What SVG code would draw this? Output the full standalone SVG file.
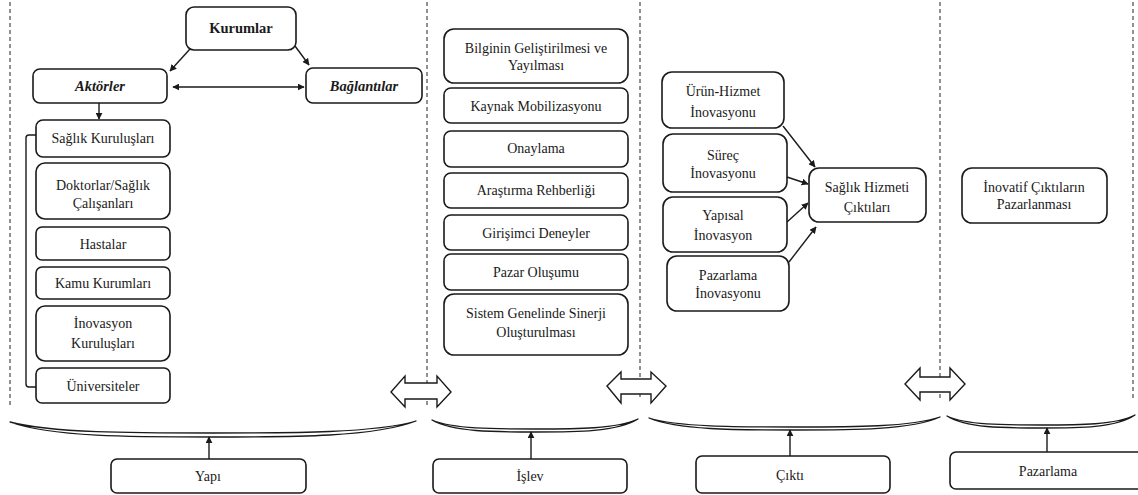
<svg xmlns="http://www.w3.org/2000/svg" width="1138" height="495" viewBox="0 0 1138 495">
  <style>
    .box { fill: #ffffff; stroke: #1a1a1a; stroke-width: 1.6; }
    .t { font-family: 'Liberation Serif', 'Times New Roman', serif; font-size: 14px; fill: #1a1a1a; text-anchor: middle; }
    .bi { font-weight: bold; font-style: italic; font-size: 14.5px; }
    .b { font-weight: bold; font-size: 14.5px; }
    .dash { stroke: #222; stroke-width: 1; stroke-dasharray: 4 3; fill: none; }
    .line { stroke: #1a1a1a; stroke-width: 1.4; fill: none; }
    .brace { fill: #ffffff; stroke: #1a1a1a; stroke-width: 1.3; stroke-linejoin: round; }
    .hollow { fill: #ffffff; stroke: #1a1a1a; stroke-width: 1.4; stroke-linejoin: miter; }
  </style>
  <defs>
    <marker id="ah" viewBox="0 0 10 10" refX="9" refY="5" markerWidth="7" markerHeight="7" markerUnits="userSpaceOnUse" orient="auto-start-reverse">
      <path d="M0,0 L10,5 L0,10 Z" fill="#1a1a1a"/>
    </marker>
  </defs>

  <!-- section separators -->
  <g id="separators">
    <line class="dash" x1="10" y1="2" x2="10" y2="405"/>
    <line class="dash" x1="427" y1="2" x2="427" y2="405"/>
    <line class="dash" x1="640" y1="2" x2="640" y2="397"/>
    <line class="dash" x1="940" y1="2" x2="940" y2="400"/>
    <line class="dash" x1="1133" y1="2" x2="1133" y2="398"/>
  </g>

  <!-- Yapı: institutions, actors, links -->
  <g id="kurumlar">
    <rect class="box" x="186" y="7" width="110" height="43" rx="8"/>
    <text class="t b" x="241" y="33">Kurumlar</text>
  </g>
  <g id="aktorler">
    <rect class="box" x="33" y="69" width="134" height="34" rx="7"/>
    <text class="t bi" x="100" y="91">Aktörler</text>
  </g>
  <g id="baglantilar">
    <rect class="box" x="306" y="68" width="116" height="35" rx="7"/>
    <text class="t bi" x="364" y="91">Bağlantılar</text>
  </g>

  <g id="aktor-list">
    <g id="saglik-kuruluslari">
      <rect class="box" x="36" y="120" width="134" height="37" rx="7"/>
      <text class="t" x="103" y="143">Sağlık Kuruluşları</text>
    </g>
    <g id="doktorlar">
      <rect class="box" x="36" y="163" width="134" height="56" rx="9"/>
      <text class="t" x="103" y="190">Doktorlar/Sağlık</text>
      <text class="t" x="103" y="208">Çalışanları</text>
    </g>
    <g id="hastalar">
      <rect class="box" x="36" y="227" width="134" height="33" rx="6"/>
      <text class="t" x="103" y="249">Hastalar</text>
    </g>
    <g id="kamu">
      <rect class="box" x="36" y="267" width="134" height="32" rx="6"/>
      <text class="t" x="103" y="288">Kamu Kurumları</text>
    </g>
    <g id="inovasyon-kuruluslari">
      <rect class="box" x="36" y="306" width="134" height="55" rx="9"/>
      <text class="t" x="103" y="328">İnovasyon</text>
      <text class="t" x="103" y="348">Kuruluşları</text>
    </g>
    <g id="universiteler">
      <rect class="box" x="36" y="368" width="134" height="35" rx="6"/>
      <text class="t" x="103" y="391">Üniversiteler</text>
    </g>
  </g>

  <!-- İşlev -->
  <g id="islev-list">
    <g id="bilgi">
      <rect class="box" x="444" y="29" width="184" height="54" rx="10"/>
      <text class="t" x="536" y="53">Bilginin Geliştirilmesi ve</text>
      <text class="t" x="536" y="70">Yayılması</text>
    </g>
    <g id="kaynak">
      <rect class="box" x="444" y="88" width="184" height="35" rx="7"/>
      <text class="t" x="536" y="111">Kaynak Mobilizasyonu</text>
    </g>
    <g id="onaylama">
      <rect class="box" x="444" y="131" width="184" height="36" rx="7"/>
      <text class="t" x="536" y="153">Onaylama</text>
    </g>
    <g id="arastirma">
      <rect class="box" x="444" y="173" width="184" height="35" rx="7"/>
      <text class="t" x="536" y="195">Araştırma Rehberliği</text>
    </g>
    <g id="girisimci">
      <rect class="box" x="444" y="215" width="184" height="35" rx="7"/>
      <text class="t" x="536" y="238">Girişimci Deneyler</text>
    </g>
    <g id="pazar-olusumu">
      <rect class="box" x="444" y="254" width="184" height="36" rx="7"/>
      <text class="t" x="536" y="277">Pazar Oluşumu</text>
    </g>
    <g id="sinerji">
      <rect class="box" x="444" y="294" width="184" height="61" rx="10"/>
      <text class="t" x="536" y="318">Sistem Genelinde Sinerji</text>
      <text class="t" x="536" y="337">Oluşturulması</text>
    </g>
  </g>

  <!-- Çıktı -->
  <g id="cikti-list">
    <g id="urun-hizmet">
      <rect class="box" x="662" y="72" width="122" height="56" rx="10"/>
      <text class="t" x="723" y="96">Ürün-Hizmet</text>
      <text class="t" x="723" y="117">İnovasyonu</text>
    </g>
    <g id="surec">
      <rect class="box" x="663" y="134" width="124" height="58" rx="10"/>
      <text class="t" x="723" y="160">Süreç</text>
      <text class="t" x="723" y="178">İnovasyonu</text>
    </g>
    <g id="yapisal">
      <rect class="box" x="663" y="197" width="124" height="55" rx="10"/>
      <text class="t" x="723" y="220">Yapısal</text>
      <text class="t" x="723" y="240">İnovasyon</text>
    </g>
    <g id="pazarlama-inovasyonu">
      <rect class="box" x="667" y="256" width="122" height="55" rx="10"/>
      <text class="t" x="728" y="280">Pazarlama</text>
      <text class="t" x="728" y="298">İnovasyonu</text>
    </g>
    <g id="saglik-hizmeti">
      <rect class="box" x="809" y="168" width="117" height="54" rx="10"/>
      <text class="t" x="867" y="192">Sağlık Hizmeti</text>
      <text class="t" x="867" y="212">Çıktıları</text>
    </g>
  </g>

  <!-- Pazarlama -->
  <g id="inovatif">
    <rect class="box" x="962" y="168" width="145" height="55" rx="10"/>
    <text class="t" x="1034" y="192">İnovatif Çıktıların</text>
    <text class="t" x="1034" y="209">Pazarlanması</text>
  </g>

  <!-- bottom dimension labels -->
  <g id="yapi">
    <rect class="box" x="111" y="459" width="195" height="34" rx="6"/>
    <text class="t" x="208" y="481">Yapı</text>
  </g>
  <g id="islev">
    <rect class="box" x="433" y="459" width="194" height="34" rx="6"/>
    <text class="t" x="530" y="481">İşlev</text>
  </g>
  <g id="cikti">
    <rect class="box" x="696" y="456" width="194" height="37" rx="6"/>
    <text class="t" x="790" y="480">Çıktı</text>
  </g>
  <g id="pazarlama">
    <rect class="box" x="950" y="452" width="200" height="37" rx="6"/>
    <text class="t" x="1048" y="476">Pazarlama</text>
  </g>

  <!-- grouping brackets under each section -->
  <g id="braces">
    <path class="brace" d="M10,422 C51,433 132,433 213,433 S375,433 416,421 C375,437 294,437 213,437 S51,437 10,422 Z"/>
    <path class="brace" d="M432,420 C453,429 494,429 535,429 S617,429 638,419 C617,432 576,432 535,432 S453,432 432,420 Z"/>
    <path class="brace" d="M649,418 C678,427 736,427 794,427 S911,427 940,417 C911,430 853,430 794,430 S678,430 649,418 Z"/>
    <path class="brace" d="M947,416 C966,425 1003,425 1041,425 S1116,425 1135,415 C1116,428 1079,428 1041,428 S966,428 947,416 Z"/>
  </g>

  <!-- hollow two-way arrows between sections -->
  <g id="exchange-arrows">
    <polygon class="hollow" points="391,392 405,376 405,383 437,383 437,376 451,392 437,407 437,399 405,399 405,407"/>
    <polygon class="hollow" points="607,386 621,372 621,379 651,379 651,372 666,386 651,403 651,394 621,394 621,403"/>
    <polygon class="hollow" points="905,384 920,368 920,377 950,377 950,368 965,384 950,400 950,392 920,392 920,400"/>
  </g>

  <g id="connectors">
    <line class="line" x1="190" y1="49" x2="170" y2="71" marker-end="url(#ah)"/>
    <line class="line" x1="295" y1="46" x2="309" y2="65" marker-end="url(#ah)"/>
    <line class="line" x1="173" y1="87" x2="304" y2="87" marker-start="url(#ah)" marker-end="url(#ah)"/>
    <line class="line" x1="99" y1="103" x2="99" y2="119" marker-end="url(#ah)"/>
    <path class="line" d="M36,135 L29,135 Q26,135 26,138 L26,384 Q26,387 29,387 L36,387"/>
    <line class="line" x1="783" y1="126" x2="815" y2="167" marker-end="url(#ah)"/>
    <line class="line" x1="787" y1="177" x2="808" y2="184" marker-end="url(#ah)"/>
    <line class="line" x1="787" y1="222" x2="808" y2="203" marker-end="url(#ah)"/>
    <line class="line" x1="789" y1="262" x2="816" y2="227" marker-end="url(#ah)"/>
    <line class="line" x1="209" y1="459" x2="209" y2="437" marker-end="url(#ah)"/>
    <line class="line" x1="531" y1="459" x2="531" y2="432" marker-end="url(#ah)"/>
    <line class="line" x1="790" y1="456" x2="790" y2="430" marker-end="url(#ah)"/>
    <line class="line" x1="1047" y1="452" x2="1047" y2="428" marker-end="url(#ah)"/>
  </g>
</svg>
